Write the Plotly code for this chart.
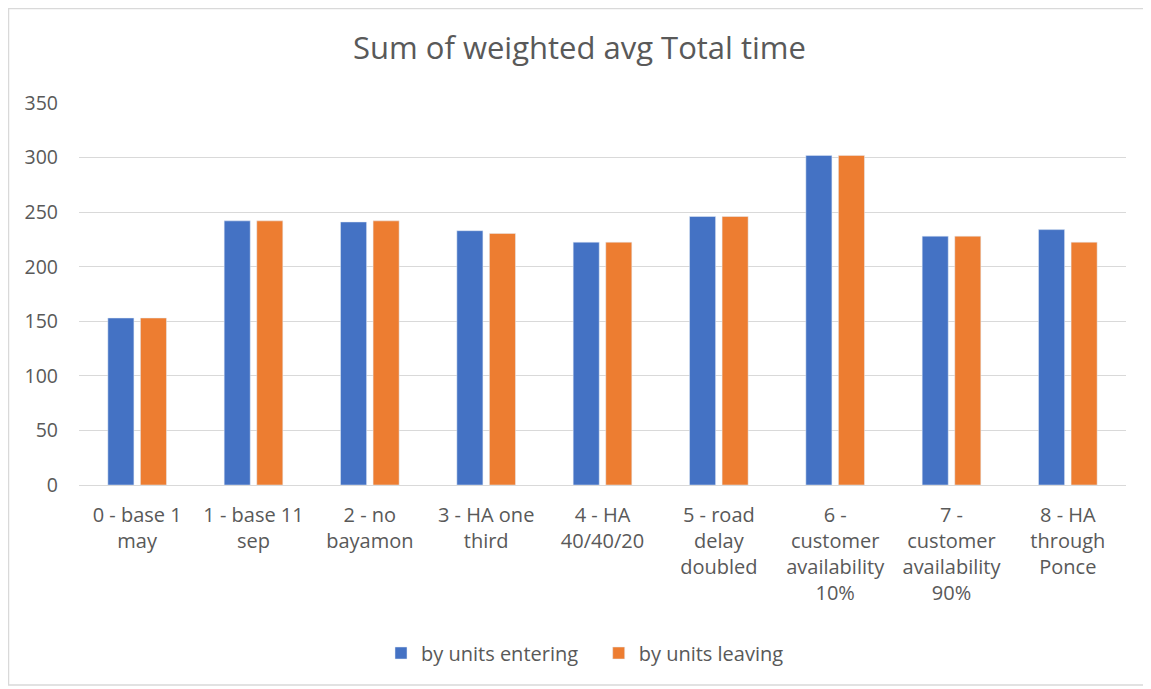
import plotly.graph_objects as go

categories = [
    "0 - base 1<br>may",
    "1 - base 11<br>sep",
    "2 - no<br>bayamon",
    "3 - HA one<br>third",
    "4 - HA<br>40/40/20",
    "5 - road<br>delay<br>doubled",
    "6 -<br>customer<br>availability<br>10%",
    "7 -<br>customer<br>availability<br>90%",
    "8 - HA<br>through<br>Ponce",
]
entering = [153, 242, 241, 233, 222.5, 246, 302, 228, 234]
leaving = [153, 242, 242, 230.5, 222.5, 246, 302, 228, 222.5]
y_ticks = [0, 50, 100, 150, 200, 250, 300, 350]
series_names = ["by units entering", "by units leaving"]

FONT = "Open Sans, Segoe UI, sans-serif"
TXT = "#595959"

fig = go.Figure()
fig.add_trace(go.Bar(x=categories, y=entering, name=series_names[0] + "\u00a0\u00a0\u00a0",
                     marker=dict(color="#4472C4")))
fig.add_trace(go.Bar(x=categories, y=leaving, name=series_names[1],
                     marker=dict(color="#ED7D31")))

OFF = 8  # page body margin
W, H = 1151 - OFF, 689 - OFF
L, R, T, B = 79 - OFF, 25, 103 - OFF, 204
pw, ph = W - L - R, H - T - B

def px_x(p):
    return (p - OFF - L) / pw

def px_y(p):
    return (H - B - (p - OFF)) / ph

fig.update_layout(
    width=W, height=H,
    margin=dict(l=L, r=R, t=T, b=B),
    paper_bgcolor="white", plot_bgcolor="white",
    barmode="group", bargap=0.44, bargroupgap=0.2,
    font=dict(family=FONT, color=TXT, size=20),
    title=dict(text="Sum of weighted avg Total time", x=0.5, xanchor="center",
               y=1 - (48 - OFF) / H, yanchor="middle",
               font=dict(family=FONT, size=31, color=TXT)),
    legend=dict(orientation="h", x=px_x(585), xanchor="center", y=px_y(653), yanchor="middle",
                font=dict(family=FONT, size=20, color=TXT), itemwidth=30,
                traceorder="normal"),
    xaxis=dict(showgrid=False, showline=False, ticks="", tickangle=0,
               ticklabelstandoff=16,
               tickfont=dict(family=FONT, size=20, color=TXT)),
    yaxis=dict(range=[0, 350], tickvals=y_ticks, showgrid=True, gridcolor="#D9D9D9",
               gridwidth=1.3, zeroline=True, zerolinecolor="#D9D9D9", zerolinewidth=1.3,
               showline=False, ticks="", ticklabelstandoff=20,
               tickfont=dict(family=FONT, size=19.5, color=TXT)),
    shapes=[dict(type="rect", xref="paper", yref="paper",
                 x0=px_x(8.5), x1=px_x(1147), y0=px_y(685), y1=px_y(8.5),
                 line=dict(color="#D9D9D9", width=1.5), fillcolor="rgba(0,0,0,0)",
                 layer="below")],
)

fig.write_html("out.html")
